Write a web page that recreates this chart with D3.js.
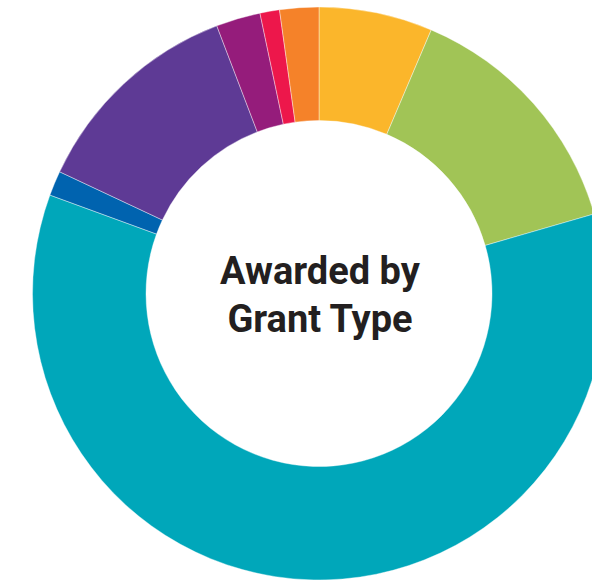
<!DOCTYPE html>
<html>
<head>
<meta charset="utf-8">
<script src="https://cdn.jsdelivr.net/npm/d3@7"></script>
<style>
  html, body { margin: 0; padding: 0; background: #fff; }
  svg { display: block; }
</style>
</head>
<body>
<svg id="chart" width="592" height="581"></svg>
<script>
// grant type shares (% of awarded), clockwise from 12 o'clock
var grantTypes = ["Type 1", "Type 2", "Type 3", "Type 4", "Type 5", "Type 6", "Type 7", "Type 8"];
var shares = [6.4, 14.1, 60.0, 1.4, 12.2, 2.5, 1.1, 2.2];
var sliceColors = ["#FBB62B", "#A1C456", "#00A7BA", "#0063AF", "#5E3A95", "#951C7B", "#ED174B", "#F58229"];
var titleLines = ["Awarded by", "Grant Type"];

function renderDonut() {
    var svg = d3.select("#chart"),
        cx = 319, cy = 293.5,
        outerR = 286.5, innerR = 173;

    var g = svg.append("g")
        .attr("transform", "translate(" + cx + "," + cy + ")");

    var data = grantTypes.map(function (d, i) {
        return { type: d, value: shares[i], color: sliceColors[i] };
    });

    var pie = d3.pie()
        .sort(null)
        .value(function (d) { return d.value; });

    var arc = d3.arc()
        .innerRadius(innerR)
        .outerRadius(outerR);

    g.selectAll(".slice")
        .data(pie(data))
        .enter().append("path")
        .attr("class", "slice")
        .attr("d", arc)
        .attr("fill", function (d) { return d.data.color; })
        .attr("stroke", "#fff")
        .attr("stroke-width", 0.4);

    g.selectAll(".title")
        .data(titleLines)
        .enter().append("text")
        .attr("class", "title")
        .attr("x", 1)
        .attr("y", function (d, i) { return -9.5 + i * 48; })
        .attr("text-anchor", "middle")
        .style("font-family", "Roboto, sans-serif")
        .style("font-weight", "700")
        .style("font-size", "38px")
        .style("fill", "#231F20")
        .text(function (d) { return d; });
}

renderDonut();
</script>
</body>
</html>
